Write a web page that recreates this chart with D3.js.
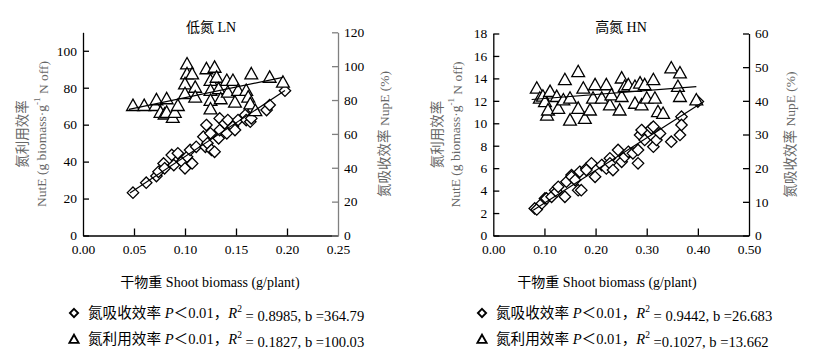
<!DOCTYPE html>
<html lang="zh">
<head>
<meta charset="utf-8">
<script src="https://d3js.org/d3.v7.min.js"></script>
<style>
  body { margin: 0; background: #fff; }
  text { font-family: "Liberation Serif", "Noto Sans CJK SC", serif; }
</style>
</head>
<body>
<script>
// low N panel: diamonds on left axis, triangles on right axis
var lnDiamonds = [[0.049,23.2],[0.062,28.6],[0.072,32.2],[0.074,34.5],[0.079,39],[0.080,36.4],
  [0.087,43.6],[0.089,38.1],[0.093,44.5],[0.097,40],[0.100,36.4],[0.102,42.6],[0.105,46.3],
  [0.107,39],[0.111,48],[0.118,53.5],[0.120,48],[0.122,49.9],[0.121,59.8],[0.125,55.3],
  [0.126,46.3],[0.129,45.3],[0.133,52.6],[0.134,57.1],[0.134,63.4],[0.139,60.7],[0.141,55.3],
  [0.142,62.5],[0.147,58.9],[0.149,57.1],[0.152,62.5],[0.159,65.2],[0.160,62.5],[0.164,61.6],
  [0.165,63.4],[0.167,67.9],[0.180,67.9],[0.183,70.6],[0.198,78.4]];
var lnTriangles = [[0.049,77],[0.060,77],[0.071,77],[0.072,80.4],[0.076,73],[0.080,72],
  [0.082,81],[0.082,73],[0.088,70],[0.090,73],[0.093,77],[0.102,101.6],[0.102,95.7],
  [0.100,89.8],[0.100,84],[0.107,95.7],[0.110,87.8],[0.110,82],[0.121,98.7],[0.125,91.8],
  [0.125,85.9],[0.125,80],[0.125,75],[0.129,99.6],[0.131,93.7],[0.133,86.9],[0.135,81],
  [0.141,91.8],[0.142,84.9],[0.147,91.8],[0.149,79],[0.152,85.9],[0.160,85.9],[0.162,82],
  [0.164,78],[0.165,95.7],[0.169,74],[0.183,93.7],[0.196,90.8]];
var lnDiamondFit = [[0.046,23],[0.198,78.5]];
var lnTriangleFit = [[0.045,74.5],[0.196,93.4]];

// high N panel
var hnDiamonds = [[0.081,2.41],[0.085,2.32],[0.095,2.86],[0.101,3.3],[0.104,3.3],[0.114,3.45],
  [0.121,4.04],[0.124,3.9],[0.127,4.34],[0.140,3.45],[0.143,4.79],[0.153,5.38],[0.153,5.23],
  [0.160,4.94],[0.166,4.04],[0.169,5.68],[0.172,4.04],[0.182,5.98],[0.182,5.83],[0.192,6.43],
  [0.199,5.23],[0.212,6.28],[0.221,5.98],[0.228,6.88],[0.228,6.43],[0.234,5.83],[0.244,7.62],
  [0.251,6.57],[0.257,7.02],[0.264,7.46],[0.273,7.32],[0.283,7.62],[0.283,6.43],[0.287,8.96],
  [0.290,9.4],[0.296,8.51],[0.309,9.55],[0.313,7.91],[0.313,9.7],[0.319,8.51],[0.326,9.1],
  [0.348,8.36],[0.365,8.96],[0.368,10.59],[0.368,9.85],[0.400,11.93]];
var hnTriangles = [[0.085,43.9],[0.091,40.9],[0.097,41.5],[0.101,39.9],[0.105,35.9],[0.107,37.4],
  [0.111,42.9],[0.124,41.4],[0.127,37.9],[0.137,40.4],[0.140,46.4],[0.150,40.9],[0.150,34.4],
  [0.166,48.8],[0.166,37.9],[0.176,43.9],[0.179,34.9],[0.189,37.4],[0.195,40.9],[0.199,44.9],
  [0.212,40.9],[0.221,44.9],[0.228,38.9],[0.231,41.9],[0.247,37.4],[0.251,46.9],[0.251,41.4],
  [0.257,44.4],[0.264,44.9],[0.277,44.4],[0.277,39.4],[0.287,45.4],[0.290,38.9],[0.296,44.9],
  [0.300,40.9],[0.313,46.4],[0.316,40.9],[0.322,36.9],[0.332,36.4],[0.348,49.9],[0.361,44.4],
  [0.365,48.4],[0.365,41.4],[0.397,40.4]];
var hnDiamondFit = [[0.078,2.26],[0.407,11.8]];
var hnTriangleFit = [[0.075,40.4],[0.397,44.2]];

// axis ticks
var lnXTicks = [0, 0.05, 0.10, 0.15, 0.20, 0.25];
var lnLeftTicks = [0, 20, 40, 60, 80, 100];
var lnRightTicks = [0, 20, 40, 60, 80, 100, 120];
var hnXTicks = [0, 0.1, 0.2, 0.3, 0.4, 0.5];
var hnLeftTicks = [0, 2, 4, 6, 8, 10, 12, 14, 16, 18];
var hnRightTicks = [0, 10, 20, 30, 40, 50, 60];

// texts
var titles = ["低氮 LN", "高氮 HN"];
var legendNames = ["氮吸收效率", "氮利用效率"];
var lnLegendTail = [" = 0.8985, b =364.79", " = 0.1827, b =100.03"];
var hnLegendTail = [" = 0.9442, b =26.683", " =0.1027, b =13.662"];

var width = 816, height = 354;
var svg = d3.select('body').append('svg')
  .attr('width', width).attr('height', height);

var diamondPath = "M0,-5.7L5.7,0L0,5.7L-5.7,0Z";
var trianglePath = "M0,-6L6.4,5.4L-6.4,5.4Z";

function drawPanel(p) {
  var x = d3.scaleLinear().domain([0, p.xMax]).range([p.left, p.right]);
  var yL = d3.scaleLinear().domain([0, p.yLMax]).range([p.bottom, p.top]);
  var yR = d3.scaleLinear().domain([0, p.yRMax]).range([p.bottom, p.top]);
  var g = svg.append('g');

  // axes
  var xAxis = g.append('g').attr('transform', 'translate(0,' + p.bottom + ')')
    .call(d3.axisBottom(x).tickValues(p.xTicks).tickFormat(d3.format('.2f'))
      .tickSizeInner(-7).tickSizeOuter(0).tickPadding(9));
  var lAxis = g.append('g').attr('transform', 'translate(' + p.left + ',0)')
    .call(d3.axisLeft(yL).tickValues(p.lTicks).tickSizeInner(-6).tickSizeOuter(0).tickPadding(6));
  var rAxis = g.append('g').attr('transform', 'translate(' + p.right + ',0)')
    .call(d3.axisRight(yR).tickValues(p.rTicks).tickSizeInner(-6).tickSizeOuter(0).tickPadding(6));
  [xAxis, lAxis, rAxis].forEach(function(a) {
    a.attr('font-family', null).attr('font-size', 13.5);
    a.selectAll('path, line').attr('stroke', '#000').attr('stroke-width', 1.3);
    a.selectAll('text').attr('fill', '#000');
  });
  rAxis.selectAll('path, line').attr('stroke', p.rightColor);
  xAxis.selectAll('.tick line').filter(function(d) { return d === 0 || d === p.xMax; }).remove();

  // points
  g.selectAll('.dia').data(p.diamonds).join('path')
    .attr('d', diamondPath)
    .attr('transform', function(d) { return 'translate(' + x(d[0]) + ',' + yL(d[1]) + ')'; })
    .attr('fill', '#fff').attr('stroke', '#000').attr('stroke-width', 1.3);
  g.selectAll('.tri').data(p.triangles).join('path')
    .attr('d', trianglePath)
    .attr('transform', function(d) { return 'translate(' + x(d[0]) + ',' + yR(d[1]) + ')'; })
    .attr('fill', '#fff').attr('stroke', '#000').attr('stroke-width', 1.3);

  // fitted lines
  g.append('path').datum(p.diamondFit)
    .attr('d', d3.line().x(function(d) { return x(d[0]); }).y(function(d) { return yL(d[1]); }))
    .attr('stroke', '#000').attr('stroke-width', 1.2).attr('fill', 'none');
  g.append('path').datum(p.triangleFit)
    .attr('d', d3.line().x(function(d) { return x(d[0]); }).y(function(d) { return yR(d[1]); }))
    .attr('stroke', '#000').attr('stroke-width', 1.2).attr('fill', 'none');

  // title
  g.append('text').attr('x', p.titleX).attr('y', 31.5).attr('text-anchor', 'middle')
    .attr('font-size', 14).text(p.title);

  // y labels
  var midY = (p.top + p.bottom) / 2;
  g.append('text').attr('transform', 'translate(' + p.lab1X + ',' + midY + ') rotate(-90)')
    .attr('text-anchor', 'middle').attr('dy', '0.35em').attr('font-size', 13.5).attr('fill', '#666')
    .text('氮利用效率');
  var t2 = g.append('text').attr('transform', 'translate(' + p.lab2X + ',' + midY + ') rotate(-90)')
    .attr('text-anchor', 'middle').attr('dy', '0.35em').attr('font-size', 13.5).attr('fill', '#666');
  t2.append('tspan').text('NutE (g biomass·g');
  t2.append('tspan').attr('font-size', 9).attr('dy', '-0.6em').text('-1');
  t2.append('tspan').attr('dy', '0.6em').text(' N off)');
  g.append('text').attr('transform', 'translate(' + p.labRX + ',' + midY + ') rotate(-90)')
    .attr('text-anchor', 'middle').attr('dy', '0.35em').attr('font-size', 13.5).attr('fill', '#666')
    .text('氮吸收效率 NupE (%)');

  // x label
  g.append('text').attr('x', p.xLabX).attr('y', 287).attr('text-anchor', 'middle')
    .attr('font-size', 14).text('干物重 Shoot biomass (g/plant)');

  // legend
  [diamondPath, trianglePath].forEach(function(sym, i) {
    var ly = 313 + i * 26;
    g.append('path').attr('d', sym)
      .attr('transform', 'translate(' + p.legX + ',' + ly + ') scale(0.72)')
      .attr('fill', 'none').attr('stroke', '#000').attr('stroke-width', 2.6);
    var t = g.append('text').attr('x', p.legX + 14).attr('y', ly + 5).attr('font-size', 14.6);
    t.append('tspan').text(legendNames[i] + ' ');
    t.append('tspan').attr('font-style', 'italic').text('P');
    t.append('tspan').text('＜0.01，');
    t.append('tspan').attr('font-style', 'italic').text('R');
    t.append('tspan').attr('font-size', 9.5).attr('dy', '-0.6em').text('2');
    t.append('tspan').attr('dy', '0.6em').text(p.legendTail[i]);
  });
}

drawPanel({
  left: 83, right: 338, top: 32.3, bottom: 235.5,
  xMax: 0.25, yLMax: 110, yRMax: 120,
  xTicks: lnXTicks, lTicks: lnLeftTicks, rTicks: lnRightTicks,
  diamonds: lnDiamonds, triangles: lnTriangles,
  diamondFit: lnDiamondFit, triangleFit: lnTriangleFit,
  rightColor: '#808080', title: titles[0], titleX: 211,
  lab1X: 22, lab2X: 41, labRX: 384, xLabX: 210,
  legX: 74, legendTail: lnLegendTail
});
drawPanel({
  left: 493.3, right: 749, top: 33.5, bottom: 235.5,
  xMax: 0.5, yLMax: 18, yRMax: 60,
  xTicks: hnXTicks, lTicks: hnLeftTicks, rTicks: hnRightTicks,
  diamonds: hnDiamonds, triangles: hnTriangles,
  diamondFit: hnDiamondFit, triangleFit: hnTriangleFit,
  rightColor: '#000', title: titles[1], titleX: 621,
  lab1X: 437, lab2X: 455, labRX: 790, xLabX: 607,
  legX: 482, legendTail: hnLegendTail
});
</script>
</body>
</html>
